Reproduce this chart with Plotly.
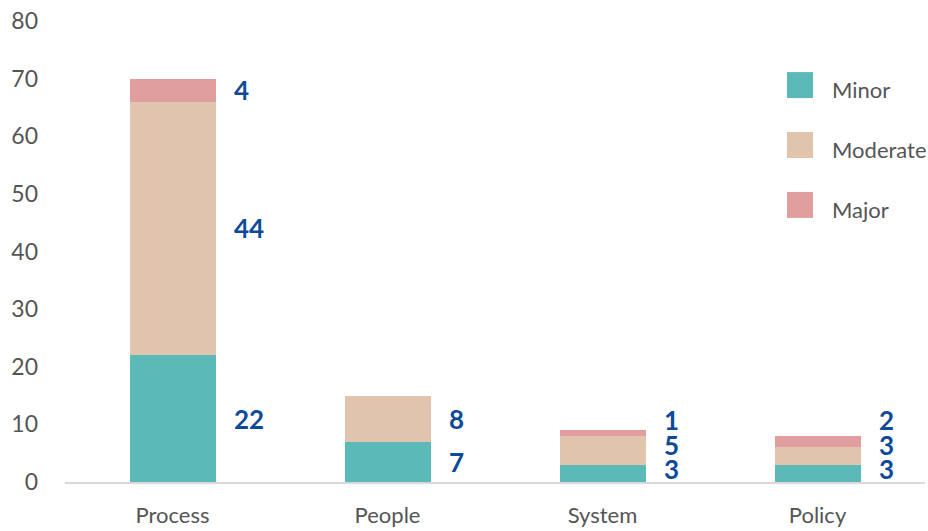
import plotly.graph_objects as go

categories = ["Process", "People", "System", "Policy"]
minor = [22, 7, 3, 3]
moderate = [44, 8, 5, 3]
major = [4, 0, 1, 2]

series = [
    ("Minor", minor, "#5BBAB8"),
    ("Moderate", moderate, "#E0C4AE"),
    ("Major", major, "#E09E9E"),
]

label_color = "#0D4A9A"
tick_color = "#555555"
font_family = "Lato, 'Noto Sans', sans-serif"

fig = go.Figure()
for name, vals, color in series:
    fig.add_trace(go.Bar(
        x=categories, y=vals, name=name, width=0.4,
        marker=dict(color=color, line=dict(width=0)),
        showlegend=False,
    ))

# Value labels to the right of each stacked segment; on short stacks they are
# pushed apart so they stay readable (floor keeps the lowest one above the axis)
min_gap = 4.25   # data units between neighbouring labels
floor = 2.25     # lowest allowed label centre
for i, cat in enumerate(categories):
    base = 0
    positions = []
    for name, vals, color in series:
        v = vals[i]
        if v > 0:
            positions.append([base + v / 2, v])
        base += v
    prev = None
    for p in positions:
        lo = floor if prev is None else prev + min_gap
        p[0] = max(p[0], lo)
        prev = p[0]
    for ypos, v in positions:
        fig.add_annotation(
            x=cat, y=ypos, text=str(v), showarrow=False,
            xanchor="left", yanchor="middle", xshift=60,
            height=20, borderpad=0,
            font=dict(family=font_family, size=26, color=label_color, weight="bold"),
        )

# Custom legend with large square swatches
for j, (name, _, color) in enumerate(series):
    yc = 0.861 - j * 0.130
    fig.add_shape(
        type="rect", xref="paper", yref="paper",
        x0=0.8395, x1=0.8698, y0=yc - 0.0282, y1=yc + 0.0282,
        fillcolor=color, line=dict(width=0),
    )
    fig.add_annotation(
        xref="paper", yref="paper", x=0.889, y=yc - 0.009, text=name,
        showarrow=False, xanchor="left", yanchor="middle",
        font=dict(family=font_family, size=22, color=tick_color),
    )

fig.update_layout(
    barmode="stack",
    width=928, height=531,
    margin=dict(l=65, r=3, t=21, b=49),
    paper_bgcolor="white", plot_bgcolor="white",
    font=dict(family=font_family, color=tick_color, size=23),
    xaxis=dict(
        range=[-0.5, 3.5], showgrid=False, showline=True,
        linecolor="#D9D9D9", linewidth=2, ticks="",
        ticklabelstandoff=13, automargin=False,
        tickfont=dict(size=22, color=tick_color),
    ),
    yaxis=dict(
        range=[0, 80], dtick=10, showgrid=False, zeroline=False,
        showline=False, ticks="", ticklabelstandoff=26, automargin=False,
        tickfont=dict(size=23, color=tick_color),
    ),
)

fig.write_html("out.html")
